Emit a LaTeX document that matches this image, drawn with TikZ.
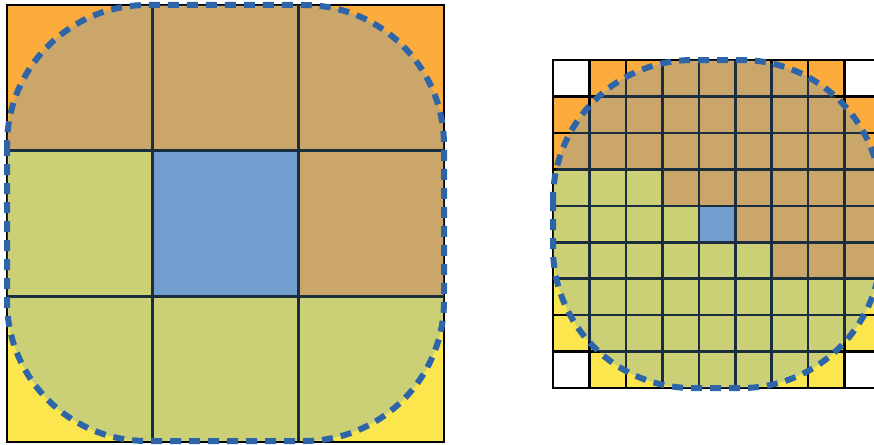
\documentclass[tikz,border=0pt]{standalone}
\usepackage{xcolor}
\usepackage{tikz}
\definecolor{or}  {RGB}{251,172, 60}
\definecolor{ye}  {RGB}{252,230, 78}
\definecolor{bl}  {RGB}{124,159,203}
\definecolor{wh}  {RGB}{255,255,255}
\definecolor{veil}{RGB}{ 91,155,213}
\definecolor{dashBlue}{RGB}{46,100,168}

\begin{document}
\begin{tikzpicture}[x=1pt,y=-1pt,
          gridline/.style={black,line width=2.6pt,line cap=rect},
          veilfill/.style={fill=veil,fill opacity=0.3,rounded corners=140pt},
          outline/.style={dashBlue,line width=6pt,
                          dash pattern=on 11pt off 8pt,rounded corners=140pt},
        ]
        \useasboundingbox (0,0) rectangle (874,444);
        \clip (0,0) rectangle (874,444);
        % Grade 3x3
        \def\sz{145.67}
        \foreach \r/\l in {0/{or,or,or},1/{ye,bl,or},2/{ye,ye,ye}}{
          \foreach \c [count=\k from 0] in \l {
            \fill[fill=\c] ({7+\k*\sz},{5+\r*\sz}) rectangle +(\sz,\sz);
          }
        }
        \foreach \i in {0,...,3}{
          \draw[gridline] ({7+\i*\sz},5) -- ({7+\i*\sz},{5+3*\sz});
          \draw[gridline] (7,{5+\i*\sz}) -- ({7+3*\sz},{5+\i*\sz});
        }
        \fill[veilfill] (7,5) rectangle (444,441);
        \draw[outline] (7,5) rectangle (444,441);

        % Grade 9x9
        \def\cs{36.45}
        \foreach \r/\l in {0/{wh,or,or,or,or,or,or,or,wh},
                           1/{or,or,or,or,or,or,or,or,or},
                           2/{or,or,or,or,or,or,or,or,or},
                           3/{ye,ye,ye,or,or,or,or,or,or},
                           4/{ye,ye,ye,ye,bl,or,or,or,or},
                           5/{ye,ye,ye,ye,ye,ye,or,or,or},
                           6/{ye,ye,ye,ye,ye,ye,ye,ye,ye},
                           7/{ye,ye,ye,ye,ye,ye,ye,ye,ye},
                           8/{wh,ye,ye,ye,ye,ye,ye,ye,wh}}{
          \foreach \c [count=\k from 0] in \l {
            \fill[fill=\c] ({553+\k*\cs},{60+\r*\cs}) rectangle +(\cs,\cs);
          }
        }
        \foreach \i in {0,...,9}{
          \draw[gridline] ({553+\i*\cs},60) -- ({553+\i*\cs},{60+9*\cs});
          \draw[gridline] (553,{60+\i*\cs}) -- ({553+9*\cs},{60+\i*\cs});
        }
        \fill[veilfill] (553,60) rectangle ({553+9*\cs},{60+9*\cs});
        \draw[outline] (553,60) rectangle ({553+9*\cs},{60+9*\cs});
      \end{tikzpicture}
\end{document}
